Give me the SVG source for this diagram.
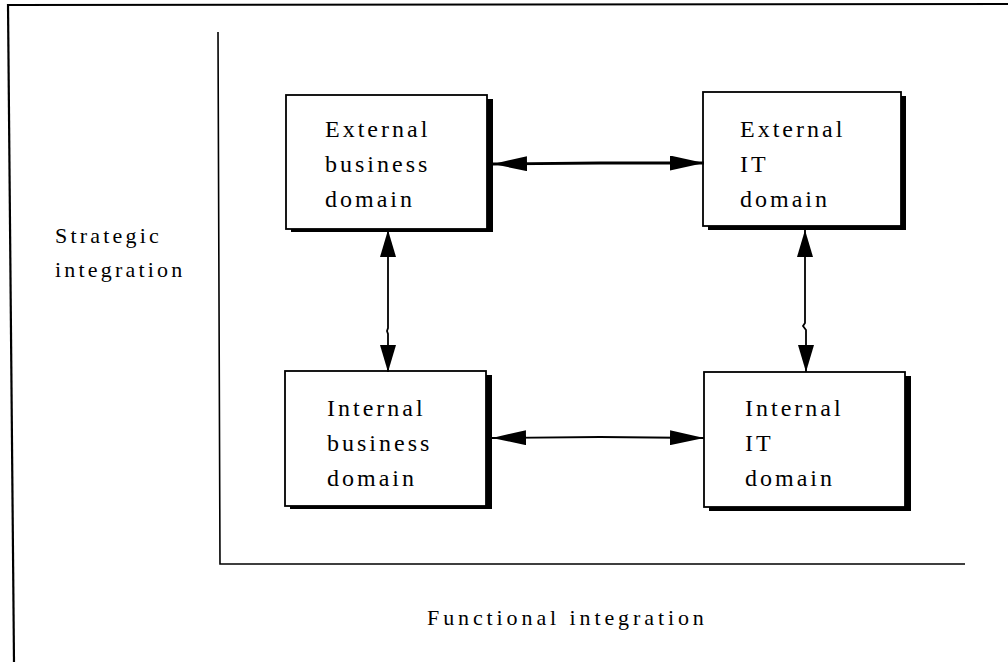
<svg xmlns="http://www.w3.org/2000/svg" width="1008" height="662" viewBox="0 0 1008 662">
  <style>
    .frame { fill: none; stroke: #000; stroke-width: 2.2; }
    .axis { fill: none; stroke: #000; stroke-width: 1.6; }
    .box { fill: #fff; stroke: #000; stroke-width: 1.8; }
    .shadow { fill: #000; }
    text { font-family: 'Liberation Serif', 'Times New Roman', 'DejaVu Serif', serif; fill: #000; }
    .label { font-size: 24px; letter-spacing: 3px; }
    .axis-label { font-size: 22px; letter-spacing: 3.2px; }
    .link { fill: none; stroke: #000; stroke-width: 1.8; }
    .link-bold { fill: none; stroke: #000; stroke-width: 2.8; }
  </style>
  <defs>
    <marker id="headH" markerUnits="userSpaceOnUse" viewBox="0 0 34 15" refX="34" refY="7.5" markerWidth="34" markerHeight="15" orient="auto-start-reverse">
      <path d="M0,0 L34,7.5 L0,15 Z" fill="#000"/>
    </marker>
    <marker id="headV" markerUnits="userSpaceOnUse" viewBox="0 0 27 16" refX="27" refY="8" markerWidth="27" markerHeight="16" orient="auto-start-reverse">
      <path d="M0,0 L27,8 L0,16 Z" fill="#000"/>
    </marker>
  </defs>

  <rect width="1008" height="662" fill="#fff"/>

  <!-- outer frame -->
  <path class="frame" d="M8,5 L1008,4"/>
  <path class="frame" d="M8,4 L14,662"/>

  <!-- integration axes -->
  <path class="axis" d="M218,32 L220,564 L965,564"/>
  <text class="axis-label" x="55" y="243">Strategic</text>
  <text class="axis-label" x="55" y="277">integration</text>
  <text class="axis-label" x="427" y="625" style="letter-spacing:3.9px">Functional integration</text>

  <!-- domains -->
  <g id="external-business">
    <rect class="shadow" x="291" y="99" width="202" height="133"/>
    <rect class="box" x="286" y="95" width="201" height="134"/>
    <text class="label" x="325" y="137">External</text>
    <text class="label" x="325" y="172">business</text>
    <text class="label" x="325" y="207">domain</text>
  </g>
  <g id="external-it">
    <rect class="shadow" x="708" y="96" width="198" height="134"/>
    <rect class="box" x="703" y="92" width="198" height="134"/>
    <text class="label" x="740" y="137">External</text>
    <text class="label" x="740" y="172">IT</text>
    <text class="label" x="740" y="207">domain</text>
  </g>
  <g id="internal-business">
    <rect class="shadow" x="290" y="375" width="202" height="134"/>
    <rect class="box" x="285" y="371" width="201" height="135"/>
    <text class="label" x="327" y="416">Internal</text>
    <text class="label" x="327" y="451">business</text>
    <text class="label" x="327" y="486">domain</text>
  </g>
  <g id="internal-it">
    <rect class="shadow" x="709" y="376" width="202" height="135"/>
    <rect class="box" x="704" y="372" width="201" height="135"/>
    <text class="label" x="745" y="416">Internal</text>
    <text class="label" x="745" y="451">IT</text>
    <text class="label" x="745" y="486">domain</text>
  </g>

  <!-- two-way links between domains -->
  <g id="links">
    <path class="link-bold" d="M493,164 L600,163 L704,163" marker-start="url(#headH)" marker-end="url(#headH)"/>
    <path class="link" d="M492,438 L600,437 L704,438" marker-start="url(#headH)" marker-end="url(#headH)"/>
    <path class="link" d="M388,230 L388,328 L387,331 L388,334 L388,372" marker-start="url(#headV)" marker-end="url(#headV)"/>
    <path class="link" d="M805,230 L805,323 L803,326 L806,330 L806,372" marker-start="url(#headV)" marker-end="url(#headV)"/>
  </g>
</svg>
